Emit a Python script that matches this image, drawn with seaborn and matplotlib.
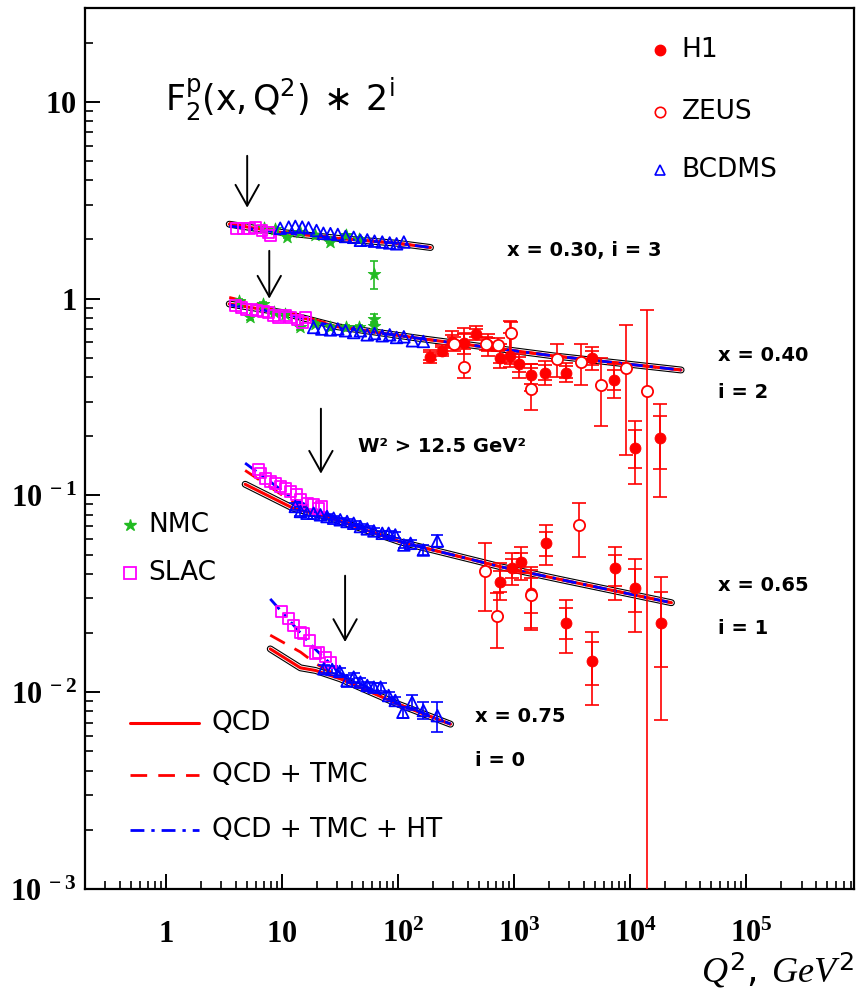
import numpy as np
import pandas as pd
import matplotlib
matplotlib.use('Agg')
import matplotlib.pyplot as plt
import seaborn as sns
from matplotlib.ticker import FixedLocator, FuncFormatter, NullFormatter

sns.set_style('white')
plt.rcParams['font.family'] = ['DejaVu Sans']
plt.rcParams['text.color'] = 'black'
plt.rcParams['axes.labelcolor'] = 'black'
plt.rcParams['xtick.color'] = 'black'
plt.rcParams['ytick.color'] = 'black'
plt.rcParams['mathtext.fontset'] = 'custom'
plt.rcParams['mathtext.rm'] = 'DejaVu Sans'
plt.rcParams['mathtext.sf'] = 'DejaVu Sans'
plt.rcParams['mathtext.it'] = 'Liberation Serif:italic'
plt.rcParams['mathtext.bf'] = 'Liberation Serif:bold'

# ---------------- data (F2 * 2^i) ----------------
# x = 0.30, i = 3
slac_q2_030 = [4.08, 4.65, 5.25, 5.87, 6.71, 7.64, 7.9]
slac_f2_030 = [2.27, 2.27, 2.28, 2.31, 2.22, 2.18, 2.10]
nmc_q2_030 = [6.92, 8.74, 11.0, 14.4, 19.3, 25.7, 35.2, 45.8, 61.8]
nmc_f2_030 = [2.29, 2.27, 2.06, 2.18, 2.10, 1.94, 2.10, 2.02, 1.34]
nmc_err_030 = [0.03, 0.03, 0.03, 0.03, 0.03, 0.03, 0.03, 0.04, 0.22]
bcdms_q2_030 = [9.63, 11.4, 13.0, 14.9, 16.9, 19.8, 22.7, 26.1, 30.2, 35.2,
                41.4, 47.3, 54.2, 62.6, 73.0, 84.6, 97.0, 112]
bcdms_f2_030 = [2.28, 2.31, 2.33, 2.31, 2.29, 2.22, 2.15, 2.14, 2.12, 2.07,
                2.05, 1.98, 1.99, 1.96, 1.94, 1.92, 1.90, 1.94]

# x = 0.40, i = 2
slac_q2_040 = [3.94, 4.50, 4.97, 5.50, 6.06, 6.92, 7.63, 8.43, 9.32, 10.6,
               11.9, 13.5, 14.9, 15.9]
slac_f2_040 = [0.921, 0.903, 0.885, 0.885, 0.869, 0.858, 0.851, 0.819, 0.803,
               0.819, 0.803, 0.779, 0.758, 0.803]
nmc_q2_040 = [4.21, 5.31, 6.83, 8.43, 10.6, 14.4, 19.3, 26.1, 35.2, 45.8, 61.8, 61.8]
nmc_f2_040 = [0.977, 0.803, 0.94, 0.851, 0.835, 0.714, 0.743, 0.714, 0.714,
              0.714, 0.79, 0.73]
nmc_err_040 = [0.02, 0.02, 0.02, 0.02, 0.02, 0.02, 0.02, 0.02, 0.02, 0.02, 0.05, 0.03]
bcdms_q2_040 = [18.7, 22.0, 26.1, 30.2, 35.2, 41.4, 47.3, 54.2, 62.6, 73.0,
                84.6, 97, 112, 133, 165]
bcdms_f2_040 = [0.714, 0.701, 0.694, 0.701, 0.687, 0.673, 0.687, 0.655, 0.665,
                0.648, 0.655, 0.635, 0.640, 0.611, 0.606]
h1_q2_040 = [190, 238, 290, 373, 465, 600, 750, 930, 1110, 1410, 1860, 2790,
             4680, 7320, 11000, 18200]
h1_f2_040 = [0.508, 0.545, 0.605, 0.598, 0.664, 0.584, 0.502, 0.513, 0.468,
             0.411, 0.421, 0.421, 0.502, 0.388, 0.175, 0.195]
h1_lo_040 = [0.47, 0.51, 0.56, 0.526, 0.62, 0.513, 0.446, 0.452, 0.393, 0.341,
             0.366, 0.375, 0.436, 0.314, 0.114, 0.098]
h1_hi_040 = [0.55, 0.58, 0.688, 0.712, 0.729, 0.664, 0.59, 0.773, 0.526, 0.468,
             0.485, 0.473, 0.571, 0.468, 0.240, 0.293]
zeus_q2_040 = [306, 373, 570, 720, 935, 1410, 2330, 3750, 5600, 9300, 13960]
zeus_f2_040 = [0.590, 0.452, 0.590, 0.584, 0.672, 0.349, 0.496, 0.479, 0.366,
               0.446, 0.341]
zeus_lo_040 = [0.545, 0.393, 0.55, 0.54, 0.468, 0.273, 0.402, 0.366, 0.226,
               0.161, 0.0]
zeus_hi_040 = [0.641, 0.664, 0.635, 0.63, 0.764, 0.468, 0.590, 0.590, 0.502,
               0.738, 0.88]

# x = 0.65, i = 1
slac_q2_065 = [6.27, 6.48, 7.17, 7.90, 8.74, 9.63, 10.6, 11.8, 13.4, 14.4,
               16.4, 18.7, 20.6, 22.0]
slac_f2_065 = [0.135, 0.130, 0.1225, 0.118, 0.1155, 0.111, 0.109, 0.105, 0.101,
               0.095, 0.0914, 0.0897, 0.0861, 0.0879]
bcdms_q2_065 = [13.0, 14.4, 16.4, 18.7, 21.4, 24.4, 27.8, 31.7, 36.3, 41.4,
                47.3, 54.2, 61.8, 73.0, 82.8, 94.5, 112, 128, 165, 218]
bcdms_f2_065 = [0.0879, 0.0829, 0.0812, 0.0812, 0.0797, 0.0781, 0.0766, 0.0752,
                0.0737, 0.0722, 0.0695, 0.0676, 0.0660, 0.0642, 0.0642, 0.0630,
                0.0560, 0.0571, 0.0528, 0.0587]
bcdms_err_065 = [0.004, 0.004, 0.003, 0.003, 0.002, 0.002, 0.002, 0.002, 0.002,
                 0.002, 0.002, 0.002, 0.002, 0.002, 0.002, 0.002, 0.002, 0.002,
                 0.003, 0.004]
h1_q2_065 = [751, 953, 1140, 1410, 1870, 2800, 4670, 7340, 10950, 18300]
h1_f2_065 = [0.0362, 0.0426, 0.0457, 0.0321, 0.0572, 0.0226, 0.0144, 0.0426,
             0.0338, 0.0226]
h1_lo_065 = [0.0294, 0.0349, 0.0370, 0.0206, 0.0442, 0.0159, 0.00859, 0.0294,
             0.0203, 0.0072]
h1_hi_065 = [0.0451, 0.0508, 0.0545, 0.0418, 0.0706, 0.0294, 0.0203, 0.0545,
             0.0478, 0.0385]
zeus_q2_065 = [565, 705, 1410, 3650]
zeus_f2_065 = [0.0412, 0.0243, 0.0311, 0.0706]
zeus_lo_065 = [0.0259, 0.0167, 0.0212, 0.0484]
zeus_hi_065 = [0.0572, 0.0318, 0.0433, 0.0912]

# x = 0.75, i = 0
slac_q2_075 = [9.97, 11.4, 12.6, 14.4, 15.3, 17.3, 19.3, 20.6, 23.5, 26.1]
slac_f2_075 = [0.0256, 0.0237, 0.0219, 0.0202, 0.0198, 0.0184, 0.0157, 0.0160,
               0.0151, 0.0142]
bcdms_q2_075 = [22.9, 27.0, 31.4, 36.3, 41.4, 47.3, 54.2, 61.8, 70.6, 82.8,
                94.5, 110, 132, 165, 218]
bcdms_f2_075 = [0.01315, 0.01305, 0.01275, 0.01147, 0.01193, 0.01125, 0.01082,
                0.01061, 0.01061, 0.00962, 0.00908, 0.00791, 0.00889, 0.00807,
                0.00760]
bcdms_err_075 = [0.0006, 0.0006, 0.0006, 0.0008, 0.0006, 0.0005, 0.0005, 0.0005,
                 0.0005, 0.0004, 0.0004, 0.0005, 0.0008, 0.0008, 0.0013]

# theory curves
qcd_q2_030 = [3.5, 10, 31.7, 100, 190]
qcd_f2_030 = [2.39, 2.17, 2.02, 1.91, 1.82]
tmc_f2_030 = [2.43, 2.19, 2.03, 1.91, 1.82]
ht_f2_030 = [2.34, 2.16, 2.02, 1.91, 1.82]

qcd_q2_040 = [3.5, 10, 30, 156, 2190, 27500]
qcd_f2_040 = [0.94, 0.85, 0.72, 0.627, 0.512, 0.434]
tmc_f2_040 = [1.015, 0.87, 0.725, 0.627, 0.512, 0.434]
ht_f2_040 = [0.93, 0.845, 0.715, 0.627, 0.512, 0.434]

qcd_q2_065 = [4.8, 12.5, 24.4, 105, 765, 2550, 22700]
qcd_f2_065 = [0.114, 0.086, 0.078, 0.058, 0.0434, 0.0373, 0.0285]
tmc_f2_065 = [0.134, 0.092, 0.079, 0.058, 0.0434, 0.0373, 0.0285]
ht_f2_065 = [0.146, 0.096, 0.080, 0.058, 0.0434, 0.0373, 0.0285]

qcd_q2_075 = [7.9, 14.4, 19.4, 31.7, 100, 283]
qcd_f2_075 = [0.0166, 0.0133, 0.0129, 0.0117, 0.0087, 0.00688]
tmc_f2_075 = [0.0195, 0.0160, 0.0140, 0.0119, 0.0087, 0.00688]
ht_f2_075 = [0.0298, 0.0200, 0.0165, 0.0125, 0.0088, 0.0069]

# W^2 > 12.5 GeV^2 arrows
arrow_q2 = [5.0, 7.75, 21.6, 34.9]
arrow_top = [5.32, 1.75, 0.276, 0.0391]
arrow_bot = [2.90, 1.0, 0.129, 0.0180]

RED, BLUE, GREEN, MAG = '#ff0000', '#0000ff', '#22bb22', '#ff00ff'

fig = plt.figure(figsize=(8.6, 9.98), dpi=100)
ax = fig.add_axes([85/860, 1-889/998, (854-85)/860, (889-8)/998])
ax.set_xscale('log')
ax.set_yscale('log')
ax.set_xlim(0.2, 8.5e5)
ax.set_ylim(1e-3, 30)

# theory curves
bins = [(qcd_q2_030, qcd_f2_030, tmc_f2_030, ht_f2_030),
        (qcd_q2_040, qcd_f2_040, tmc_f2_040, ht_f2_040),
        (qcd_q2_065, qcd_f2_065, tmc_f2_065, ht_f2_065),
        (qcd_q2_075, qcd_f2_075, tmc_f2_075, ht_f2_075)]
for q, fq, ft, fh in bins:
    df = pd.DataFrame({'q2': q, 'qcd': fq, 'tmc': ft, 'ht': fh})
    sns.lineplot(data=df, x='q2', y='qcd', ax=ax, color='black', lw=5.0,
                 estimator=None, sort=False, zorder=2)
    sns.lineplot(data=df, x='q2', y='qcd', ax=ax, color='white', lw=3.4,
                 estimator=None, sort=False, zorder=2.1)
    sns.lineplot(data=df, x='q2', y='qcd', ax=ax, color=RED, lw=2.2,
                 estimator=None, sort=False, zorder=2.2)
    sns.lineplot(data=df, x='q2', y='tmc', ax=ax, color=RED, lw=2.0,
                 estimator=None, sort=False, zorder=2.3,
                 linestyle=(0, (6, 4)))
    sns.lineplot(data=df, x='q2', y='ht', ax=ax, color=BLUE, lw=2.0,
                 estimator=None, sort=False, zorder=2.4,
                 linestyle=(0, (5, 2.5, 1.2, 2.5)))

# data points
def pts(q, f, marker, color, filled, s, zo=4):
    if filled:
        sns.scatterplot(x=q, y=f, ax=ax, marker=marker, s=s, color=color,
                        edgecolor=color, linewidth=0.6, zorder=zo, legend=False)
    else:
        sns.scatterplot(x=q, y=f, ax=ax, marker=marker, s=s, facecolor='none',
                        edgecolor=color, linewidth=1.3, zorder=zo, legend=False)

def bars(q, f, lo, hi, color, cap=3, lw=1.2, zo=3.5):
    f = np.asarray(f); lo = np.asarray(lo); hi = np.asarray(hi)
    ax.errorbar(q, f, yerr=[f - lo, hi - f], fmt='none', ecolor=color,
                elinewidth=lw, capsize=cap, capthick=lw, zorder=zo)

# NMC
bars(nmc_q2_030, nmc_f2_030, np.array(nmc_f2_030) - nmc_err_030,
     np.array(nmc_f2_030) + nmc_err_030, GREEN, cap=3)
bars(nmc_q2_040, nmc_f2_040, np.array(nmc_f2_040) - nmc_err_040,
     np.array(nmc_f2_040) + nmc_err_040, GREEN, cap=3)
pts(nmc_q2_030, nmc_f2_030, '*', GREEN, True, 90)
pts(nmc_q2_040, nmc_f2_040, '*', GREEN, True, 90)

# SLAC
for q, f in [(slac_q2_030, slac_f2_030), (slac_q2_040, slac_f2_040),
             (slac_q2_065, slac_f2_065), (slac_q2_075, slac_f2_075)]:
    pts(q, f, 's', MAG, False, 62)

# BCDMS
pts(bcdms_q2_030, bcdms_f2_030, '^', BLUE, False, 70)
pts(bcdms_q2_040, bcdms_f2_040, '^', BLUE, False, 70)
bars(bcdms_q2_065, bcdms_f2_065, np.array(bcdms_f2_065) - bcdms_err_065,
     np.array(bcdms_f2_065) + bcdms_err_065, BLUE, cap=4)
pts(bcdms_q2_065, bcdms_f2_065, '^', BLUE, False, 70)
bars(bcdms_q2_075, bcdms_f2_075, np.array(bcdms_f2_075) - bcdms_err_075,
     np.array(bcdms_f2_075) + bcdms_err_075, BLUE, cap=4)
pts(bcdms_q2_075, bcdms_f2_075, '^', BLUE, False, 70)

# H1 (total + inner stat ticks)
for q, f, lo, hi in [(h1_q2_040, h1_f2_040, h1_lo_040, h1_hi_040),
                     (h1_q2_065, h1_f2_065, h1_lo_065, h1_hi_065)]:
    f_ = np.asarray(f)
    bars(q, f, lo, hi, RED, cap=5, lw=1.2)
    bars(q, f, f_ - 0.6 * (f_ - np.asarray(lo)), f_ + 0.6 * (np.asarray(hi) - f_),
         RED, cap=5, lw=1.2)
    pts(q, f, 'o', RED, True, 62, zo=5)

# ZEUS
for q, f, lo, hi in [(zeus_q2_040, zeus_f2_040, zeus_lo_040, zeus_hi_040),
                     (zeus_q2_065, zeus_f2_065, zeus_lo_065, zeus_hi_065)]:
    bars(q, f, lo, hi, RED, cap=5, lw=1.2)
    sns.scatterplot(x=q, y=f, ax=ax, marker='o', s=65, facecolor='white',
                    edgecolor=RED, linewidth=1.3, zorder=5, legend=False)

# arrows
for q, yt, yb in zip(arrow_q2, arrow_top, arrow_bot):
    ax.annotate('', xy=(q, yb), xytext=(q, yt),
                arrowprops=dict(arrowstyle='->,head_length=0.75,head_width=0.42',
                                color='black', lw=1.4, mutation_scale=20,
                                shrinkA=0, shrinkB=0), zorder=6)

# axes styling
for sp in ax.spines.values():
    sp.set_linewidth(1.6)
    sp.set_color('black')
xmaj = [1, 10, 100, 1e3, 1e4, 1e5]
ymaj = [1e-3, 1e-2, 1e-1, 1, 10]
xmin = [m * 10.0 ** e for e in range(-1, 6) for m in range(2, 10)]
xmin = [v for v in xmin if 0.2 < v < 8.5e5]
ymin = [m * 10.0 ** e for e in range(-3, 2) for m in range(2, 10)]
ymin = [v for v in ymin if v < 30]
ax.xaxis.set_major_locator(FixedLocator(xmaj))
ax.xaxis.set_minor_locator(FixedLocator(xmin))
ax.yaxis.set_major_locator(FixedLocator(ymaj))
ax.yaxis.set_minor_locator(FixedLocator(ymin))

def xfmt(v, pos):
    e = int(round(np.log10(v)))
    if e == 0:
        return r'$\mathbf{1}$'
    if e == 1:
        return r'$\mathbf{10}$'
    return r'$\mathbf{\ \,10^{%d}}$' % e

def yfmt(v, pos):
    e = int(round(np.log10(v)))
    if e == 0:
        return r'$\mathbf{1}\ \ $'
    if e == 1:
        return r'$\mathbf{10}\ \ $'
    return r'$\mathbf{10^{\ %d}}$' % e

ax.xaxis.set_major_formatter(FuncFormatter(xfmt))
ax.yaxis.set_major_formatter(FuncFormatter(yfmt))
ax.xaxis.set_minor_formatter(NullFormatter())
ax.yaxis.set_minor_formatter(NullFormatter())
ax.tick_params(which='both', bottom=True, left=True, top=False, right=False)
ax.tick_params(which='major', direction='in', length=11, width=1.4,
               labelsize=22, color='black')
ax.tick_params(which='minor', direction='in', length=6, width=1.2, color='black')
ax.tick_params(axis='x', which='major', pad=38)
ax.tick_params(axis='y', which='major', pad=6)
for lbl in ax.get_xticklabels():
    lbl.set_va('baseline')
ax.set_xlabel('')
ax.set_ylabel('')

# x-axis title
ax.text(1.0, -0.093, r'$\mathit{Q^2,\ GeV^2}$', transform=ax.transAxes,
        ha='right', va='center', fontsize=26)

# main title
ax.text(0.104, 0.896, r'$\mathrm{F_2^p(x,Q^2)\ \ast\ 2^i}$', transform=ax.transAxes,
        ha='left', va='center', fontsize=25)

# bin labels
lab = dict(transform=ax.transAxes, ha='left', va='center', fontsize=14,
           fontweight='bold')
ax.text(0.549, 0.725, 'x = 0.30, i = 3', **lab)
ax.text(0.823, 0.606, 'x = 0.40', **lab)
ax.text(0.823, 0.563, 'i = 2', **lab)
ax.text(0.355, 0.502, 'W² > 12.5 GeV²', **lab)
ax.text(0.823, 0.345, 'x = 0.65', **lab)
ax.text(0.823, 0.296, 'i = 1', **lab)
ax.text(0.507, 0.196, 'x = 0.75', **lab)
ax.text(0.507, 0.146, 'i = 0', **lab)

# legends (drawn in axes coordinates)
tr = ax.transAxes
leg_fs = 19
ax.plot([0.748], [0.952], 'o', color=RED, ms=7.5, transform=tr)
ax.text(0.776, 0.952, 'H1', transform=tr, va='center', fontsize=leg_fs)
ax.plot([0.748], [0.882], 'o', mfc='none', mec=RED, mew=1.2, ms=7.5, transform=tr)
ax.text(0.776, 0.882, 'ZEUS', transform=tr, va='center', fontsize=leg_fs)
ax.plot([0.748], [0.816], '^', mfc='none', mec=BLUE, mew=1.2, ms=7.5, transform=tr)
ax.text(0.776, 0.816, 'BCDMS', transform=tr, va='center', fontsize=leg_fs)
ax.plot([0.0585], [0.413], '*', color=GREEN, ms=9, transform=tr)
ax.text(0.082, 0.413, 'NMC', transform=tr, va='center', fontsize=leg_fs)
ax.plot([0.0585], [0.359], 's', mfc='none', mec=MAG, mew=1.3, ms=9, transform=tr)
ax.text(0.082, 0.359, 'SLAC', transform=tr, va='center', fontsize=leg_fs)
ax.plot([0.0585, 0.148], [0.188, 0.188], color=RED, lw=2.2, transform=tr)
ax.text(0.165, 0.188, 'QCD', transform=tr, va='center', fontsize=leg_fs)
ax.plot([0.0585, 0.148], [0.129, 0.129], color=RED, lw=2.0,
        linestyle=(0, (6, 4)), transform=tr)
ax.text(0.165, 0.129, 'QCD + TMC', transform=tr, va='center', fontsize=leg_fs)
ax.plot([0.0585, 0.148], [0.067, 0.067], color=BLUE, lw=2.0,
        linestyle=(0, (5, 2.5, 1.2, 2.5)), transform=tr)
ax.text(0.165, 0.067, 'QCD + TMC + HT', transform=tr, va='center', fontsize=leg_fs)

fig.savefig('out.png', dpi=100)
